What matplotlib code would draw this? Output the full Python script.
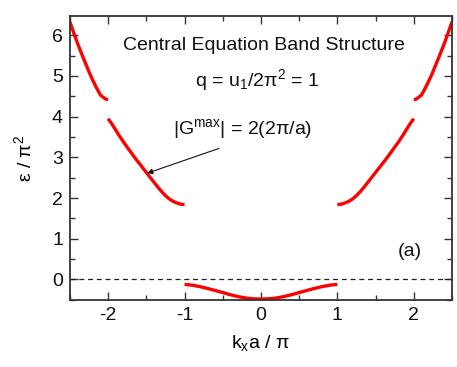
import matplotlib.pyplot as plt
from matplotlib.ticker import MultipleLocator

plt.rcParams['font.family'] = ['Liberation Sans', 'DejaVu Sans']
plt.rcParams['axes.unicode_minus'] = False

# Data (k_x a / pi, eps / pi^2), bands are symmetric in k
band1_k = [0.0, 0.1, 0.2, 0.3, 0.4, 0.5, 0.6, 0.7, 0.8, 0.9, 1.0]
band1_e = [-0.48, -0.475, -0.455, -0.42, -0.375, -0.32, -0.27, -0.22, -0.175, -0.14, -0.12]

band2_k = [1.0, 1.05, 1.1, 1.15, 1.2, 1.25, 1.3, 1.35, 1.4, 1.45, 1.5,
           1.55, 1.6, 1.65, 1.7, 1.75, 1.8, 1.85, 1.9, 1.95, 2.0]
band2_e = [1.84, 1.85, 1.88, 1.92, 1.98, 2.06, 2.16, 2.27, 2.39, 2.51, 2.63,
           2.75, 2.87, 2.99, 3.12, 3.25, 3.38, 3.52, 3.67, 3.82, 3.95]

band3_k = [2.0, 2.03, 2.06, 2.1, 2.15, 2.2, 2.25, 2.3, 2.35, 2.4, 2.45, 2.5]
band3_e = [4.42, 4.43, 4.47, 4.53, 4.70, 4.89, 5.10, 5.33, 5.56, 5.80, 6.06, 6.33]

red = '#ff0000'

fig = plt.figure(figsize=(4.57, 3.67), dpi=100)
ax = fig.add_axes([0.153, 0.183, 0.836, 0.773])

for ks, es in [(band1_k, band1_e), (band2_k, band2_e), (band3_k, band3_e)]:
    ax.plot(ks, es, color=red, lw=2.4, solid_capstyle='butt')
    ax.plot([-k for k in ks], es, color=red, lw=2.4, solid_capstyle='butt')

ax.axhline(0, color='#222222', lw=0.9, ls=(0, (4, 3)))

ax.set_xlim(-2.5, 2.5)
ax.set_ylim(-0.5, 6.47)
ax.xaxis.set_major_locator(MultipleLocator(1))
ax.xaxis.set_minor_locator(MultipleLocator(0.5))
ax.yaxis.set_major_locator(MultipleLocator(1))
ax.yaxis.set_minor_locator(MultipleLocator(0.5))
ax.tick_params(which='both', direction='in', top=True, right=True,
               color='#333333', width=1.0, labelsize=14, labelcolor='#111111')
ax.tick_params(which='major', length=6, pad=5)
ax.tick_params(which='minor', length=3.5)
for s in ax.spines.values():
    s.set_color('#333333')
    s.set_linewidth(1.3)

ax.set_xlabel(r'k$_\mathregular{x}$a / $\mathregular{\pi}$', fontsize=14, labelpad=7)
ax.set_ylabel(r'$\mathregular{\varepsilon}$ / $\mathregular{\pi^2}$', fontsize=14, labelpad=12)

ax.text(0.04, 5.76, 'Central Equation Band Structure', fontsize=14, ha='center', va='center', color='#111111')
ax.text(-0.05, 4.9, r'q = u$_\mathregular{1}$/2$\mathregular{\pi^2}$ = 1', fontsize=14, ha='center', va='center', color='#111111')
ax.text(-0.24, 3.67, r'|G$^\mathregular{max}$| = 2(2$\mathregular{\pi}$/a)', fontsize=14, ha='center', va='center', color='#111111')
ax.text(1.95, 0.68, '(a)', fontsize=14, ha='center', va='center', color='#111111')

ax.annotate('', xy=(-1.49, 2.61), xytext=(-0.55, 3.22),
            arrowprops=dict(arrowstyle='-|>', color='#111111', lw=0.8,
                            mutation_scale=8, shrinkA=0, shrinkB=0))

fig.savefig('out.png', dpi=100)
